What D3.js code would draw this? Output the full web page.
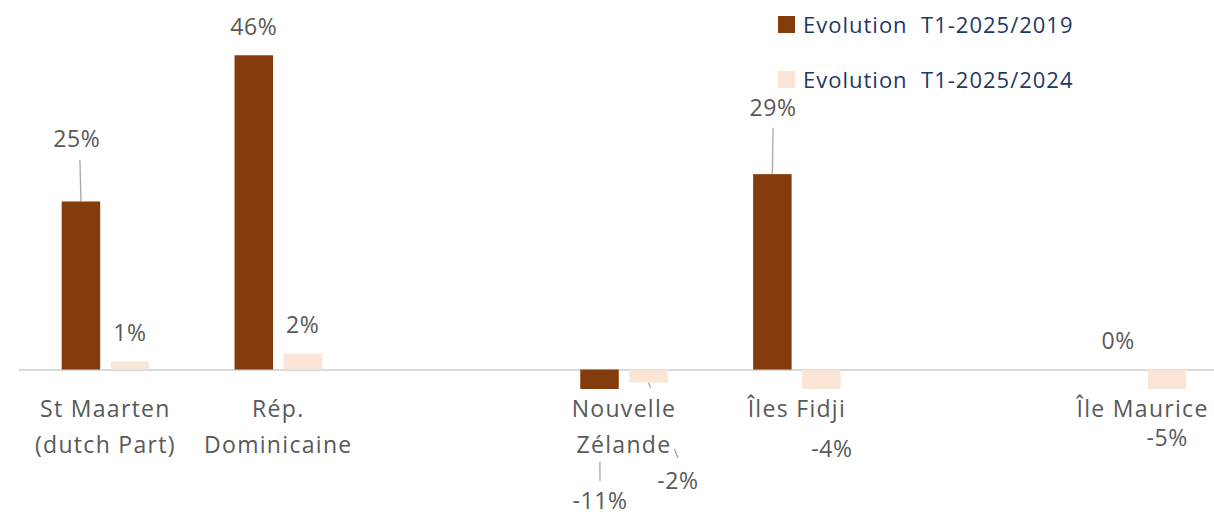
<!DOCTYPE html>
<html>
<head>
<meta charset="utf-8">
<script src="https://cdn.jsdelivr.net/npm/d3@7"></script>
<style>
  html, body { margin: 0; padding: 0; background: #fff; }
  svg { display: block; }
  text { font-family: "Open Sans", "Noto Sans", sans-serif; }
</style>
</head>
<body>
<svg id="chart" width="1214" height="517"></svg>
<script>
// ---------- DATA ----------
const categories = [
  ["St Maarten", "(dutch Part)"],
  ["Rép.", "Dominicaine"],
  [],
  ["Nouvelle", "Zélande"],
  ["Îles Fidji"],
  [],
  ["Île Maurice"]
];
const seriesNames = ["Evolution  T1-2025/2019", "Evolution  T1-2025/2024"];
const evol2019 = [24.6, 46.0, null, -11, 28.6, null, 0];
const evol2024 = [1.2, 2.3, null, -1.9, -4, null, -5];
const labels2019 = ["25%", "46%", null, "-11%", "29%", null, "0%"];
const labels2024 = ["1%", "2%", null, "-2%", "-4%", null, "-5%"];
const yDomain = [-2.85, 50];

// ---------- LAYOUT / STYLE ----------
const colors = ["#843C0C", "#FBE5D6"];
const textColor = "#595959";
const legendColor = "#1F3864";
// label offsets (dx from bar centre, dy from bar end to label baseline)
const labelLayout = [
  [{dx:-4, dy:-54.7, leader:[[-1,-41.5],[0,0]]}, {dx:0, dy:-20.5}],
  [{dx:0, dy:-20}, {dx:0, dy:-21}],
  [null, null],
  [{dx:0.5, dy:120, leader:[[0,0],[0.5,92]], vis:[[0.79,1]]},
   {dx:29.5, dy:106.5, leader:[[0,0],[29.5,75.5]], vis:[[0,0.07],[0.88,1]]}],
  [{dx:0.7, dy:-58, leader:[[0.7,-46],[0,0]]}, {dx:10.7, dy:67.7}],
  [null, null],
  [{dx:0, dy:-20.5}, {dx:0, dy:57}]
];

const svg = d3.select("#chart");
const x0 = d3.scaleBand().domain(d3.range(categories.length)).range([19, 1229]).padding(0);
const step = x0.step();
const x1 = d3.scaleBand().domain([0, 1]).range([step / 2 - 43.75, step / 2 + 43.75]).paddingInner(0.2143);
const y = d3.scaleLinear().domain(yDomain).range([389, 27.95]).clamp(true);

const values = [evol2019, evol2024];
const texts = [labels2019, labels2024];

// leader lines
const gLead = svg.append("g");
categories.forEach((c, i) => {
  [0, 1].forEach(s => {
    const L = labelLayout[i][s];
    const v = values[s][i];
    if (!L || v == null || !L.leader) return;
    const cx = x0(i) + x1(s) + x1.bandwidth() / 2;
    const cy = y(v);
    const p0 = [cx + L.leader[0][0], cy + L.leader[0][1]];
    const p1 = [cx + L.leader[1][0], cy + L.leader[1][1]];
    const vis = L.vis || [[0, 1]];
    vis.forEach(([a, b]) => {
      gLead.append("line")
        .attr("x1", p0[0] + (p1[0] - p0[0]) * a).attr("y1", p0[1] + (p1[1] - p0[1]) * a)
        .attr("x2", p0[0] + (p1[0] - p0[0]) * b).attr("y2", p0[1] + (p1[1] - p0[1]) * b)
        .attr("stroke", "#a6a6a6").attr("stroke-width", 1.3);
    });
  });
});

// axis line at zero
svg.append("line")
  .attr("x1", 19).attr("x2", 1214)
  .attr("y1", y(0) + 0.5).attr("y2", y(0) + 0.5)
  .attr("stroke", "#d9d9d9").attr("stroke-width", 2);

// bars
const gBars = svg.append("g");
categories.forEach((c, i) => {
  [0, 1].forEach(s => {
    const v = values[s][i];
    if (v == null) return;
    const bx = x0(i) + x1(s);
    const y0 = y(0), yv = y(v);
    gBars.append("rect")
      .attr("x", bx).attr("width", x1.bandwidth())
      .attr("y", Math.min(y0, yv)).attr("height", Math.abs(yv - y0))
      .attr("fill", colors[s]);
  });
});

// data labels
const gLab = svg.append("g").attr("font-size", 23).attr("letter-spacing", 0.6)
  .attr("fill", textColor).attr("text-anchor", "middle");
categories.forEach((c, i) => {
  [0, 1].forEach(s => {
    const v = values[s][i];
    const L = labelLayout[i][s];
    if (v == null || !L) return;
    const cx = x0(i) + x1(s) + x1.bandwidth() / 2;
    gLab.append("text").attr("x", cx + L.dx).attr("y", y(v) + L.dy).text(texts[s][i]);
  });
});

// category labels
const gCat = svg.append("g").attr("font-size", 23).attr("letter-spacing", 1.3)
  .attr("fill", textColor).attr("text-anchor", "middle");
categories.forEach((lines, i) => {
  lines.forEach((t, k) => {
    gCat.append("text").attr("x", x0(i) + step / 2).attr("y", 416.5 + k * 36).text(t);
  });
});

// legend
const gLeg = svg.append("g");
seriesNames.forEach((n, s) => {
  const ly = 16 + s * 55;
  gLeg.append("rect").attr("x", 778).attr("y", ly).attr("width", 17).attr("height", 17).attr("fill", colors[s]);
  gLeg.append("text").attr("x", 803).attr("y", ly + 16.5)
    .attr("font-size", 22).attr("letter-spacing", 1).attr("fill", legendColor)
    .style("white-space", "pre").text(n);
});
</script>
</body>
</html>
